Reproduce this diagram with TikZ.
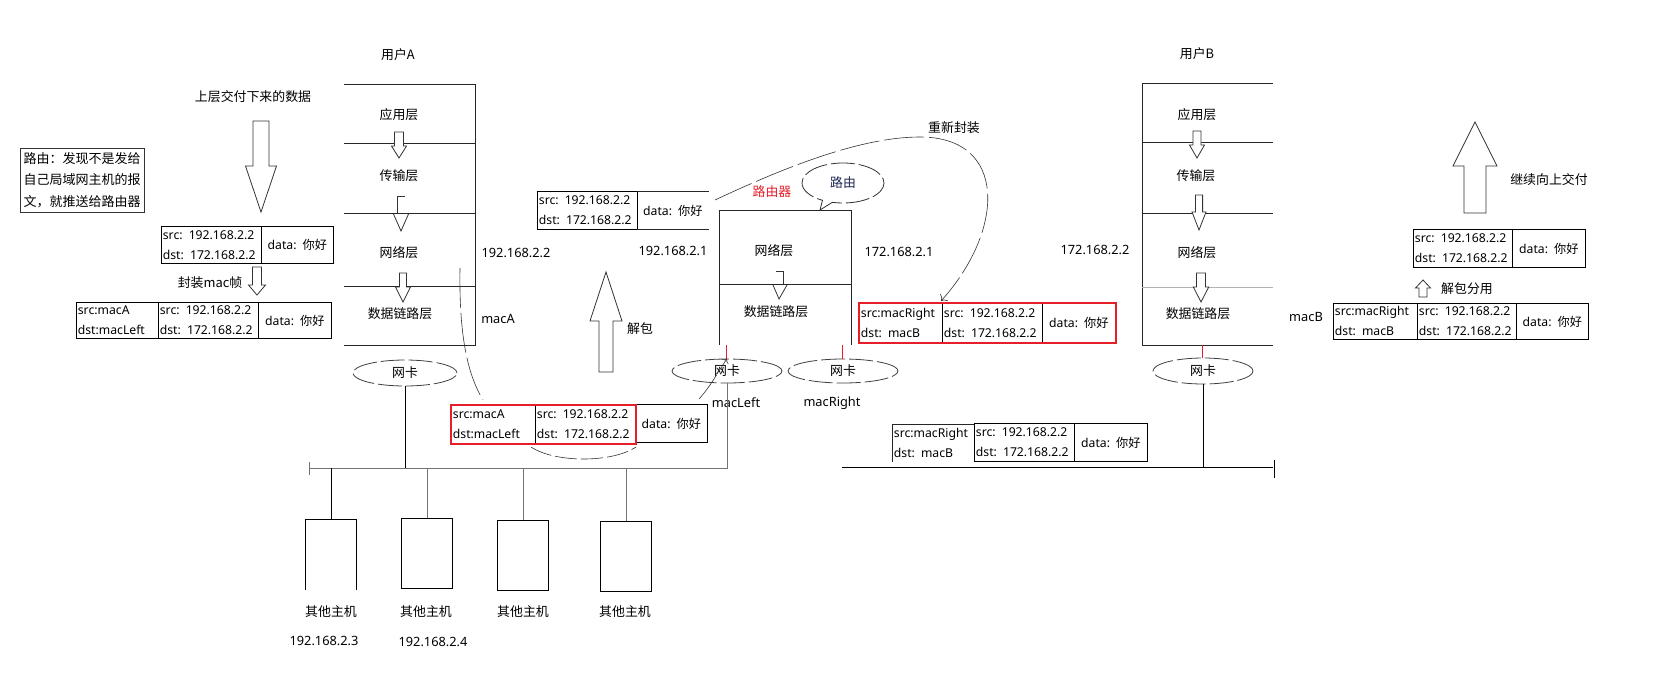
\documentclass[tikz,border=0pt]{standalone}
\usepackage{fontspec}
\setmainfont{Noto Sans}
\newfontfamily\cjk{Noto Sans CJK SC}
\usetikzlibrary{shapes.geometric,shapes.callouts,arrows.meta}
\definecolor{redbox}{RGB}{230,30,40}
\definecolor{navyt}{RGB}{30,40,80}
\newcommand\hollowarrow[6]{\draw[hollow] ({#1-#5},#2) -- ({#1+#5},#2) -- ({#1+#5},#3) -- ({#1+#6},#3) -- (#1,#4) -- ({#1-#6},#3) -- ({#1-#5},#3) -- cycle;}
\begin{document}
\begin{tikzpicture}[x=1pt,y=-1pt,line width=0.8pt,
  every node/.style={inner sep=0pt},
  en/.style={font=\fontsize{12.8}{15}\selectfont},
  zh/.style={font=\fontsize{12.9}{15}\cjk},
  cell/.style={anchor=north west, inner xsep=1.5pt, inner ysep=0pt, align=left, font=\fontsize{12.2}{20}\selectfont},
  dcell/.style={cell, align=center},
  cellbox/.style={draw=black!85},
  redframe/.style={draw=redbox, line width=2.2pt},
  hollow/.style={draw=black!80, fill=white, line width=0.8pt},
  nic/.style={ellipse, draw=black!75, dash pattern=on 24pt off 4pt, zh},
  longdash/.style={draw=black!80, line width=0.6pt, dash pattern=on 40pt off 5pt},
  hostbox/.style={anchor=north west, minimum width=51pt, minimum height=70pt},
  busline/.style={draw=black!55},
]
\useasboundingbox[fill=white] (0,0) rectangle (1662,694);

% ---------- titles ----------
\node[zh] (uA) at (398,55) {用户A};
\node[zh] (uB) at (1197,54) {用户B};

% ---------- stack A ----------
\draw[cellbox] (344,84) -- (475,84) -- (475,345) -- (344,345);
\draw[cellbox] (344,143) -- (475,143);
\draw[cellbox] (344,213) -- (475,213);
\draw[cellbox] (344,286) -- (475,286);
\node[zh] (aApp) at (399,115) {应用层};
\node[zh] (aTra) at (399,176) {传输层};
\node[zh] (aNet) at (399,253) {网络层};
\node[zh] (aLnk) at (400,314) {数据链路层};
\hollowarrow{399}{132}{146}{158}{4.5}{7.5}
\draw[black!80] (397.5,213) -- (397.5,196) -- (404.6,196);
\draw[black!80] (393.5,214) -- (401,231) -- (408.5,214);
\hollowarrow{403}{273}{287}{302}{3.5}{7.5}

% ---------- stack B ----------
\draw[cellbox] (1273,83) -- (1142,83) -- (1142,345) -- (1273,345);
\draw[cellbox] (1142,142) -- (1273,142);
\draw[cellbox] (1142,213) -- (1273,213);
\draw[black!30] (1142,287) -- (1273,287);
\node[zh] (bApp) at (1197,115) {应用层};
\node[zh] (bTra) at (1196,176) {传输层};
\node[zh] (bNet) at (1197,253) {网络层};
\node[zh] (bLnk) at (1198,314) {数据链路层};
\hollowarrow{1197}{131}{145}{158}{4}{7.5}
\hollowarrow{1199}{195}{212}{230}{3.6}{7}
\hollowarrow{1201}{273}{287}{302}{4.5}{7.7}

% ---------- router ----------
\draw[cellbox] (719,345) -- (719,210) -- (851,210) -- (851,345);
\draw[cellbox] (719,284) -- (851,284);
\node[zh] (rNet) at (774,251) {网络层};
\node[zh] (rLnk) at (776,312) {数据链路层};
\draw[black!80] (776,271) -- (783,271) -- (783,284);
\draw[black!80] (773,285) -- (779,299) -- (787,285);
\node[zh, text=redbox] (rName) at (772,192) {路由器};
\node[ellipse callout, draw=black!80, dash pattern=on 24pt off 4pt, minimum width=82pt, minimum height=40pt, callout absolute pointer={(820,210)}, zh, text=navyt] (bubble) at (843,183) {路由};

% ---------- left texts ----------
\node[zh] (upper) at (253,97) {上层交付下来的数据};
\hollowarrow{261}{121}{166}{212}{8}{15.5}
\node[draw=black!80, align=left, inner xsep=2pt, font=\fontsize{13}{21.5}\cjk, minimum width=124pt, minimum height=64pt] (note) at (82,180) {路由：发现不是发给\\自己局域网主机的报\\文，就推送给路由器};

% packet 1
\node[cell, draw, text width=97pt, minimum height=37pt] (p1ip) at (161,226) {src: 192.168.2.2\\dst: 172.168.2.2};
\node[dcell, draw, text width=69pt, minimum height=37pt] (p1d) at (261,226) {data: {\cjk 你好}};
\hollowarrow{257}{267}{285}{295}{4.5}{8.5}
\node[zh] (encap) at (210,283) {封装mac帧};
% packet 2
\node[cell, draw, text width=79pt, minimum height=36pt] (p2m) at (76,302) {src:macA\\dst:macLeft};
\node[cell, draw, text width=97pt, minimum height=36pt] (p2ip) at (158,302) {src: 192.168.2.2\\dst: 172.168.2.2};
\node[dcell, draw, text width=70pt, minimum height=36pt] (p2d) at (258,302) {data: {\cjk 你好}};

\node[en] (ipA) at (516,253) {192.168.2.2};
\node[en] (macA) at (498,319) {macA};

% ---------- middle ----------
\node[cell, draw, text width=97pt, minimum height=38pt] (p3ip) at (537,191) {src: 192.168.2.2\\dst: 172.168.2.2};
\node[dcell, text width=68pt, minimum height=38pt] (p3d) at (637,191) {data: {\cjk 你好}};
\draw[cellbox] (p3d.north west) -- (p3d.north east);
\draw[cellbox] (p3d.south west) -- (p3d.south east);
\hollowarrow{606}{372}{321}{272}{7}{16}
\node[zh] (unpack) at (640,329) {解包};
\node[en] (ipR1) at (673,251) {192.168.2.1};
\node[en] (ipR2) at (899,252) {172.168.2.1};
\node[zh] (repack) at (954,128) {重新封装};
\node[en] (ipB) at (1095,250) {172.168.2.2};

% red packet bottom
\node[cell, draw, text width=81pt, minimum height=38pt] (rbm) at (451,405) {src:macA\\dst:macLeft};
\node[cell, draw, text width=97pt, minimum height=38pt] (rbip) at (535,405) {src: 192.168.2.2\\dst: 172.168.2.2};
\node[dcell, draw, text width=69pt, minimum height=38pt] (rbd) at (635,404) {data: {\cjk 你好}};
\draw[redframe] (rbm.north west) rectangle (rbip.south east);

% red packet right
\node[cell, draw, text width=80pt, minimum height=39pt] (rrm) at (859,303) {src:macRight\\dst: macB};
\node[cell, draw, text width=97pt, minimum height=39pt] (rrip) at (942,303) {src: 192.168.2.2\\dst: 172.168.2.2};
\node[dcell, draw, text width=70pt, minimum height=39pt] (rrd) at (1042,303) {data: {\cjk 你好}};
\draw[redframe] (rrm.north west) rectangle (rrd.south east);

% bottom right packet
\node[cell, text width=79pt, minimum height=37pt] (brm) at (892,424) {src:macRight\\dst: macB};
\draw[cellbox] (brm.south west) -- (brm.north west) -- (brm.north east);
\node[cell, draw, text width=97pt, minimum height=38pt] (brip) at (974,423) {src: 192.168.2.2\\dst: 172.168.2.2};
\node[dcell, draw, text width=70pt, minimum height=38pt] (brd) at (1074,423) {data: {\cjk 你好}};

% ---------- NICs ----------
\node[nic, minimum width=104pt, minimum height=26pt] (nicA) at (405,373) {网卡};
\node[nic, minimum width=110pt, minimum height=24pt] (nicL) at (727,371) {网卡};
\node[nic, minimum width=110pt, minimum height=24pt] (nicR) at (843,371) {网卡};
\node[nic, minimum width=100pt, minimum height=26pt] (nicB) at (1203,371) {网卡};
\node[en] (macL) at (736,403) {macLeft};
\node[en] (macR) at (832,403) {macRight};
\node[en] (macB) at (1306,317) {macB};

\coordinate (rbotL) at (726,345);
\coordinate (rbotR) at (842,345);
\coordinate (bbot) at (1202,345);
\draw[redbox] (rbotL) -- (rbotL |- nicL.north);
\draw[redbox] (rbotR) -- (rbotR |- nicR.north);
\draw[redbox] (bbot) -- (bbot |- nicB.north);

% ---------- buses ----------
\coordinate (busL) at (309,468);
\coordinate (busR1) at (842,467);
\coordinate (busR2) at (1273,467);
\draw[busline] (nicL.south) -- (nicL.south |- busL) -- (busL);
\draw[busline] (309,462) -- (309,475);
\draw (nicA.south) -- (nicA.south |- busL);
\draw (busR1) -- (busR2);
\draw (1274,460) -- (1274,478);
\draw (nicB.south) -- (nicB.south |- busR1);

% hosts
\node[hostbox] (h1) at (305,519) {};
\draw (h1.south west) -- (h1.north west) -- (h1.north east) -- (h1.south east);
\node[hostbox, draw] (h2) at (401,518) {};
\node[hostbox, draw] (h3) at (497,520) {};
\node[hostbox, draw] (h4) at (600,521) {};
\draw (h1.north) -- (h1.north |- busL);
\draw[busline] (h2.north) -- (h2.north |- busL);
\draw[busline] (h3.north) -- (h3.north |- busL);
\draw[busline] (h4.north) -- (h4.north |- busL);
\node[zh] (h1t) at (331,612) {其他主机};
\node[zh] (h2t) at (426,612) {其他主机};
\node[zh] (h3t) at (523,612) {其他主机};
\node[zh] (h4t) at (625,612) {其他主机};
\node[en] (h1ip) at (324,641) {192.168.2.3};
\node[en] (h2ip) at (433,642) {192.168.2.4};

% ---------- right side ----------
\hollowarrow{1475}{213}{166}{122}{11}{22}
\node[zh] (goon) at (1549,180) {继续向上交付};
\node[cell, draw, text width=96pt, minimum height=38pt] (buip) at (1413,229) {src: 192.168.2.2\\dst: 172.168.2.2};
\node[dcell, draw, text width=70pt, minimum height=38pt] (bud) at (1512,229) {data: {\cjk 你好}};
\hollowarrow{1423}{297}{288}{280}{4}{7.5}
\node[zh] (demux) at (1467,289) {解包分用};
\node[cell, draw, text width=81pt, minimum height=36pt] (blm) at (1333,303) {src:macRight\\dst: macB};
\node[cell, draw, text width=96pt, minimum height=36pt] (blip) at (1417,303) {src: 192.168.2.2\\dst: 172.168.2.2};
\node[dcell, draw, text width=69pt, minimum height=36pt] (bld) at (1516,303) {data: {\cjk 你好}};

% ---------- curves ----------
\coordinate (cAs) at (460,268);
\coordinate (cAe) at (483,400);
\draw[longdash] (cAs) .. controls (459,330) and (466,372) .. (cAe);
\coordinate (arcL) at (531,447);
\coordinate (arcR) at (636,447);
\draw[longdash, dash pattern=on 22pt off 4pt] (arcL) .. controls (555,463) and (612,463) .. (arcR);
\coordinate (toN) at (699,399);
\draw[longdash, dash pattern=on 30pt off 4pt, -{To[length=4pt]}] (toN) .. controls (710,387) and (718,372) .. (nicL.north);
\coordinate (rpS) at (715,200);
\coordinate (rpE) at (941,301);
\draw[longdash, -{To[length=5pt]}] (rpS) .. controls (800,160) and (868,137) .. (920,137) .. controls (1008,137) and (1005,230) .. (rpE);
\end{tikzpicture}
\end{document}
